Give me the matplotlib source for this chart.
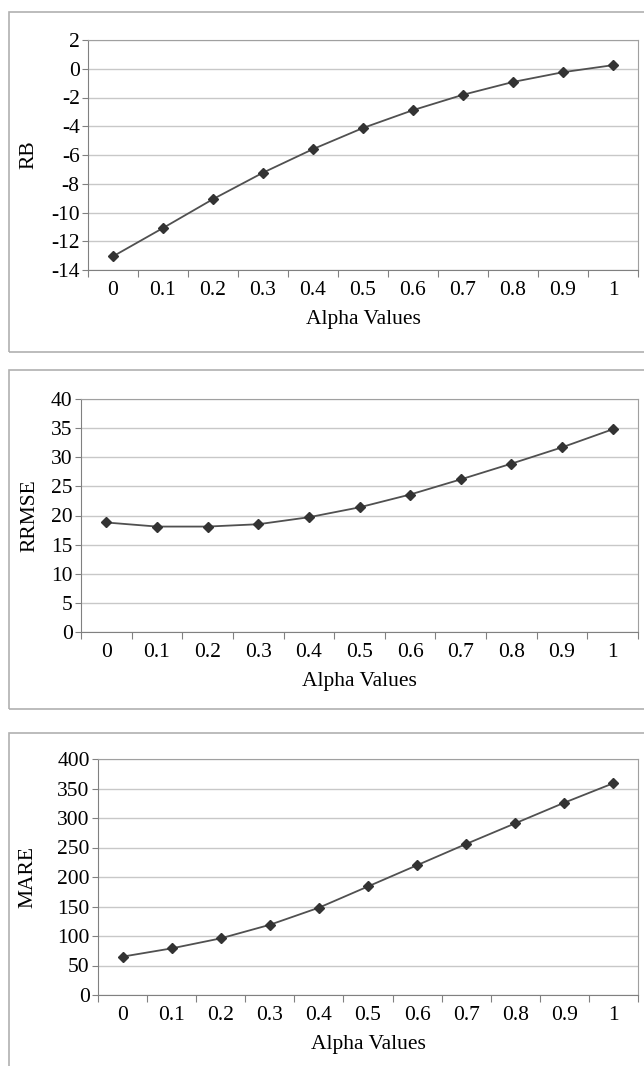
import matplotlib.pyplot as plt
from matplotlib.patches import Rectangle
import numpy as np

# Dane
alpha = ['0', '0.1', '0.2', '0.3', '0.4', '0.5', '0.6', '0.7', '0.8', '0.9', '1']
rb = [-13.05, -11.08, -9.07, -7.23, -5.59, -4.12, -2.88, -1.81, -0.92, -0.24, 0.25]
rrmse = [18.8, 18.1, 18.1, 18.5, 19.7, 21.4, 23.6, 26.2, 28.9, 31.7, 34.8]
mare = [65, 79, 96, 119, 148, 184, 220, 256, 291, 326, 359]

W, H = 644, 1066
plt.rcParams['font.family'] = ['Liberation Serif', 'DejaVu Serif']
fig = plt.figure(figsize=(W / 100, H / 100), dpi=100)

# (nazwa, dane, yticks, ramka [top, bottom], osie [left, top, bottom], ylabel x)
panele = [
    ('RB', rb, np.arange(-14, 3, 2), (12, 352), (88, 40, 270), 29),
    ('RRMSE', rrmse, np.arange(0, 41, 5), (370, 709), (81, 399, 632), 30),
    ('MARE', mare, np.arange(0, 401, 50), (733, 1075), (98, 759, 995), 28),
]

def px(x0, y0, x1, y1):
    return [x0 / W, 1 - y1 / H, (x1 - x0) / W, (y1 - y0) / H]

for nazwa, dane, yt, ramka, osie, ylx in panele:
    # szara ramka wokol wykresu
    fig.patches.append(Rectangle((9 / W, 1 - ramka[1] / H), 700 / W, (ramka[1] - ramka[0]) / H,
                                 transform=fig.transFigure, fill=False, edgecolor='#b0b0b0', lw=1.2))
    ax = fig.add_axes(px(osie[0], osie[1], 638, osie[2]))
    x = np.arange(len(alpha))
    ax.plot(x, dane, color='#505050', lw=1.3, marker='D', markersize=5.5,
            markerfacecolor='#333333', markeredgecolor='#333333', zorder=3)
    ax.set_xlim(-0.5, len(alpha) - 0.5)
    ax.set_ylim(yt[0], yt[-1])
    ax.set_yticks(yt)
    ax.set_yticklabels([str(v) for v in yt])
    ax.set_xticks(np.arange(-0.5, len(alpha)), labels=[''] * (len(alpha) + 1))
    ax.set_xticks(x, labels=alpha, minor=True)
    ax.tick_params(axis='x', which='major', length=5, color='#808080', direction='out')
    ax.tick_params(axis='x', which='minor', length=0, labelsize=15.5, pad=8)
    ax.tick_params(axis='y', length=4, color='#808080', labelsize=15.5, pad=2)
    ax.grid(axis='y', color='#c8c8c8', lw=1)
    ax.set_axisbelow(True)
    for s in ax.spines.values():
        s.set_color('#a0a0a0')
    ax.spines['left'].set_color('#808080')
    ax.spines['bottom'].set_color('#808080')
    ax.set_xlabel('Alpha Values', fontsize=15.5, labelpad=7)
    fig.text(ylx / W, 1 - (osie[1] + osie[2]) / 2 / H, nazwa, rotation=90,
             fontsize=15.5, ha='center', va='center')

fig.savefig('out.png', dpi=100)
